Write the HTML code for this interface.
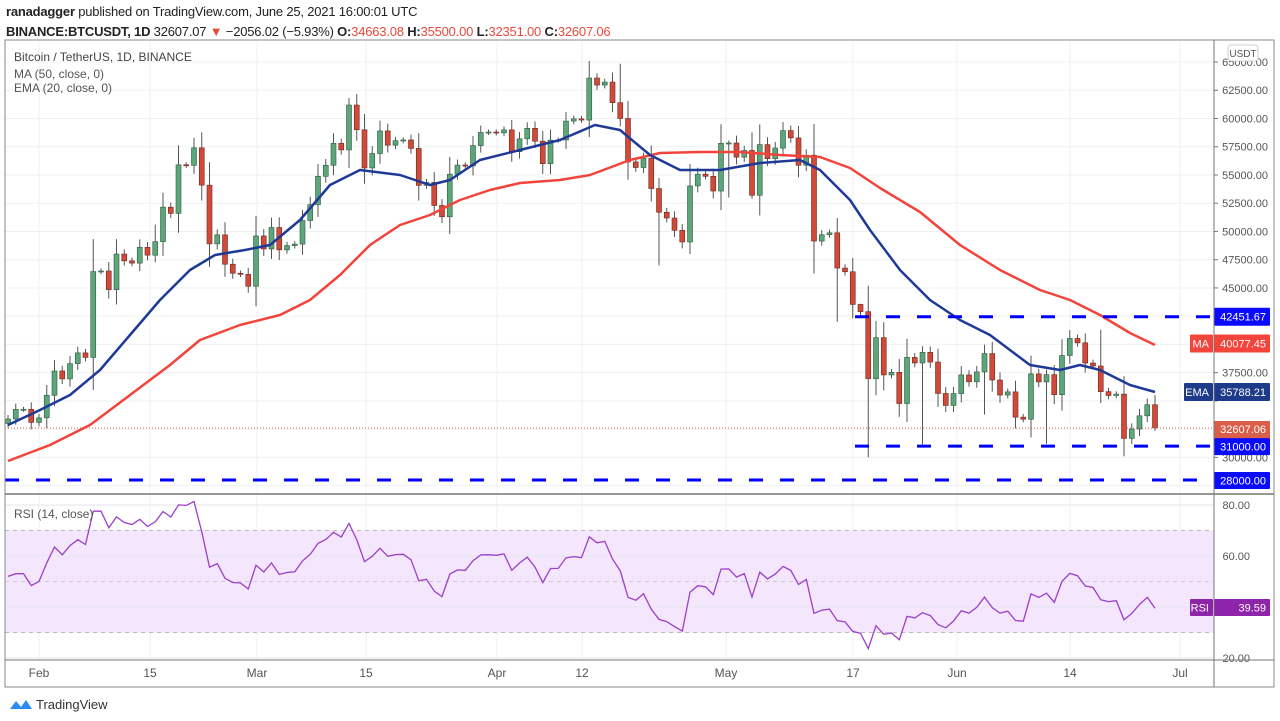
<!DOCTYPE html>
<html><head><meta charset="utf-8"><style>
body{margin:0;width:1280px;height:721px;background:#fff;overflow:hidden;font-family:"Liberation Sans",sans-serif;}
#hd{position:absolute;left:6px;top:2px;font-size:13px;color:#222;line-height:20px;letter-spacing:-0.2px}
.r{color:#e84a3c}
</style></head><body>
<div id="hd"><b style="font-weight:600">ranadagger</b> published on TradingView.com, June 25, 2021 16:00:01 UTC<br>
<b style="font-weight:600">BINANCE:BTCUSDT, 1D</b> 32607.07 <span class="r">▼</span> −2056.02 (−5.93%) <b style="font-weight:600">O:</b><span class="r">34663.08</span> <b style="font-weight:600">H:</b><span class="r">35500.00</span> <b style="font-weight:600">L:</b><span class="r">32351.00</span> <b style="font-weight:600">C:</b><span class="r">32607.06</span></div>
<svg id="s" width="1280" height="721" style="position:absolute;left:0;top:0" font-family="Liberation Sans, sans-serif">
<g id="grid"></g>
<rect x="5" y="530.5" width="1209" height="102" fill="#f3e6fd"/>
<g id="rsig"></g>
<g id="cd"></g>
<g id="lines"></g>
<g id="ax"></g>
<text x="14" y="61" font-size="12" fill="#444">Bitcoin / TetherUS, 1D, BINANCE</text>
<text x="14" y="78" font-size="12" fill="#555">MA (50, close, 0)</text>
<text x="14" y="92" font-size="12" fill="#555">EMA (20, close, 0)</text>
<text x="14" y="518" font-size="12" fill="#555">RSI (14, close)</text>
<rect x="5" y="40" width="1269" height="647" fill="none" stroke="#888" stroke-width="1"/>
<line x1="5" y1="494" x2="1274" y2="494" stroke="#777" stroke-width="1.5"/>
<line x1="5" y1="660" x2="1274" y2="660" stroke="#777" stroke-width="1"/>
<line x1="1214" y1="40" x2="1214" y2="687" stroke="#777" stroke-width="1"/>
<g font-size="12" fill="#555" text-anchor="middle">
<text x="39" y="677">Feb</text><text x="150" y="677">15</text><text x="257" y="677">Mar</text><text x="366" y="677">15</text><text x="497" y="677">Apr</text><text x="582" y="677">12</text><text x="726" y="677">May</text><text x="853" y="677">17</text><text x="957" y="677">Jun</text><text x="1070" y="677">14</text><text x="1180" y="677">Jul</text>
</g>
<g transform="translate(10,697)"><path d="M0 12 L6 4 L11 10 L16 3 L22 12 Z" fill="#2a8cf0"/></g>
<text x="36" y="709" font-size="13" fill="#333">TradingView</text>
</svg>
<script>
const S='http://www.w3.org/2000/svg';
function el(p,t,a){const e=document.createElementNS(S,t);for(const k in a)e.setAttribute(k,a[k]);document.getElementById(p).appendChild(e);return e;}
const Y=p=>62+(65000-p)*0.011297, X=d=>39+d*7.75;
const C=[33400,34250,34260,33100,33500,35500,37650,36950,38300,39250,38850,46450,46500,44850,48000,47400,47200,48600,47900,49100,52150,51600,55900,55850,57400,54100,48900,49700,47100,46300,46200,45150,49600,48450,50350,48370,48750,48880,50970,52380,54880,55860,57800,57220,61190,59000,55620,56900,58900,57640,58030,58100,57350,54080,54340,52300,51300,55070,55880,55800,57600,58760,58800,58730,58990,57060,58200,59130,57990,56000,58080,58100,59770,59970,59860,63580,62960,63220,61400,60000,56150,55660,56470,53800,51700,51190,50100,49070,54030,55070,54880,53580,57800,57830,56580,57170,53200,57690,56440,57380,58930,58280,55860,56750,49150,49710,49880,46760,46430,43540,42900,36970,40600,37300,37530,34770,38850,38360,39300,38440,35660,34600,35650,37300,36690,37570,39190,36850,35520,35800,33560,33380,37390,36680,37330,35550,39020,40530,40140,38350,38090,35820,35480,35600,31680,32510,33680,34660,32607];
const LO={111:30000,118:31100,126:33800,134:31200,148:28800,107:42000,84:47000,88:48000,93:53000,96:52900};
const HI={79:64850,24:58300,44:61800,104:59500,110:43600,141:41300,19:50600};
[39,150,257,366,497,582,726,853,957,1070,1180].forEach(x=>{el('grid','line',{x1:x,y1:41,x2:x,y2:660,stroke:'#eef0f4'})});
for(let p=27500;p<=65000;p+=2500){const y=Y(p);el('grid','line',{x1:5,y1:y,x2:1214,y2:y,stroke:'#eef0f4'});
 if(p!=27500&&p!=35000){const t=el('ax','text',{x:1268,y:y+4,'font-size':11,fill:'#555','text-anchor':'end'});t.textContent=p.toFixed(2);}
 el('ax','line',{x1:1214,y1:y,x2:1218,y2:y,stroke:'#777'});}
for(let i=0;i<C.length;i++){const d=i-4,x=X(d);const c=C[i],o=i?C[i-1]:33000;
 const up=c>=o;const span=Math.abs(c-o)+600;let h=HI[i]||Math.max(o,c)+span*0.35,l=LO[i]||Math.min(o,c)-span*0.35;
 if(i==C.length-1){h=35500;l=32351;}
 el('cd','line',{x1:x,y1:Y(h),x2:x,y2:Y(l),stroke:'#555','stroke-width':1});
 const y1=Y(Math.max(o,c)),y2=Y(Math.min(o,c));
 el('cd','rect',{x:x-2.5,y:y1,width:5,height:Math.max(1,y2-y1),fill:up?'#5da57a':'#d2493a',stroke:up?'#2f5a3c':'#6a2a20','stroke-width':0.6});}
el('lines','line',{x1:5,y1:Y(32607),x2:1214,y2:Y(32607),stroke:'#e0604a','stroke-width':1,'stroke-dasharray':'1,2'});
const ema=[[8,425],[40,410],[70,395],[100,370],[130,335],[160,300],[190,270],[215,255],[245,250],[270,245],[300,220],[330,185],[360,170],[400,175],[430,185],[450,180],[480,160],[520,150],[560,140],[595,125],[620,130],[650,155],[680,170],[720,170],[760,163],[800,160],[820,170],[850,200],[870,230],[900,270],[930,300],[960,320],[990,335],[1030,365],[1060,370],[1080,365],[1100,370],[1130,385],[1155,392]];
const ma=[[8,461],[50,445],[90,425],[130,395],[170,365],[200,340],[240,325],[280,315],[310,300],[340,275],[370,245],[400,225],[430,215],[460,200],[490,190],[520,183],[560,180],[590,175],[630,160],[660,153],[700,152],[740,152],[780,155],[820,157],[850,168],[880,188],[920,212],[960,245],[1000,270],[1040,290],[1070,300],[1100,315],[1130,333],[1155,345]];
el('lines','polyline',{points:ma.join(' '),fill:'none',stroke:'#f2443a','stroke-width':2.5,'stroke-linejoin':'round'});
el('lines','polyline',{points:ema.join(' '),fill:'none',stroke:'#1e3a96','stroke-width':2.5,'stroke-linejoin':'round'});
[[855,42451.67],[855,31000],[5,28000]].forEach(a=>el('lines','line',{x1:a[0],y1:Y(a[1]),x2:1214,y2:Y(a[1]),stroke:'#0000ff','stroke-width':3,'stroke-dasharray':'14,17'}));
const R=v=>658-(v-20)*2.55;
[[70,'4,4','#bbb'],[50,'4,4','#ccc'],[30,'4,4','#bbb']].forEach(a=>el('rsig','line',{x1:5,y1:R(a[0]),x2:1214,y2:R(a[0]),stroke:a[2],'stroke-dasharray':a[1]}));
[60,40,80,20].forEach(v=>el('rsig','line',{x1:5,y1:R(v),x2:1214,y2:R(v),stroke:'#e6e6ee'}));
let ag=500,al=500,pts=[];
for(let i=1;i<C.length;i++){const ch=C[i]-C[i-1];ag=(ag*13+Math.max(ch,0))/14;al=(al*13+Math.max(-ch,0))/14;const r=100-100/(1+ag/al);pts.push([X(i-4).toFixed(1),R(r).toFixed(1)]);}
pts.unshift([X(-4),R(52)]);
el('rsig','polyline',{points:pts.join(' '),fill:'none',stroke:'#9c3fc8','stroke-width':1.3});
[[80,505],[60,556],[20,658]].forEach(a=>{const t=el('ax','text',{x:1250,y:a[1]+4,'font-size':11,fill:'#555','text-anchor':'end'});t.textContent=a[0].toFixed(2);});
function box(x,y,w,h,f,txt,c,fs){el('ax','rect',{x:x,y:y,width:w,height:h,fill:f,rx:1});const t=el('ax','text',{x:x+w-4,y:y+h/2+4,'font-size':fs||11,fill:c||'#fff','text-anchor':'end'});t.textContent=txt;}
box(1214,Y(42451.67)-9,56,18,'#0a0aff','42451.67');
box(1190,Y(40077.45)-9,23,18,'#f2443a','MA');box(1214,Y(40077.45)-9,56,18,'#f2443a','40077.45');
box(1184,Y(35788.21)-9,29,18,'#1e3a8a','EMA');box(1214,Y(35788.21)-9,56,18,'#1e3a8a','35788.21');
el('ax','rect',{x:1214,y:421,width:56,height:29,fill:'#d95f4a'});
let t=el('ax','text',{x:1266,y:433,'font-size':11,fill:'#fff','text-anchor':'end'});t.textContent='32607.06';
t=el('ax','text',{x:1266,y:446,'font-size':11,fill:'#fbe2dc','text-anchor':'end'});t.textContent='08:00:00';
box(1214,Y(31000)-8,56,17,'#0a0aff','31000.00');
box(1214,Y(28000)-8,56,17,'#0a0aff','28000.00');
box(1190,599,23,17,'#8e24aa','RSI');box(1214,599,56,17,'#8e24aa','39.59');
el('ax','rect',{x:1228,y:45,width:30,height:16,fill:'#fff',stroke:'#ccc',rx:3});
t=el('ax','text',{x:1243,y:57,'font-size':10,fill:'#555','text-anchor':'middle'});t.textContent='USDT';
</script>
</body></html>
